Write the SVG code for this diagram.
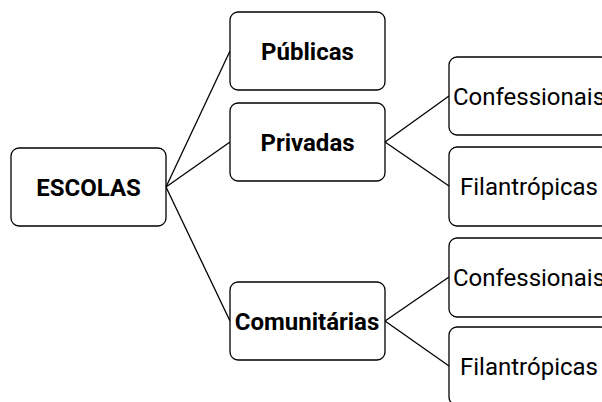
<svg xmlns="http://www.w3.org/2000/svg" width="602" height="402" viewBox="0 0 602 402">
<style>
.box{fill:#fff;stroke:#000;stroke-width:1.3}
.b{font-family:Roboto,"Liberation Sans",sans-serif;font-weight:bold;font-size:24px;text-anchor:middle;fill:#000}
.r{font-family:Roboto,"Liberation Sans",sans-serif;font-size:24px;text-anchor:middle;fill:#000}
.c{fill:none;stroke:#000;stroke-width:1.3}
</style>
<rect width="602" height="402" fill="#fff"/>
<g id="connectors">
<line class="c" x1="166" y1="187" x2="230" y2="51"/>
<line class="c" x1="166" y1="187" x2="230" y2="142"/>
<line class="c" x1="166" y1="187" x2="230" y2="321"/>
<line class="c" x1="385" y1="142" x2="449" y2="96"/>
<line class="c" x1="385" y1="142" x2="449" y2="186"/>
<line class="c" x1="385" y1="321" x2="449" y2="277"/>
<line class="c" x1="385" y1="321" x2="449" y2="366"/>
</g>
<g id="escolas"><rect class="box" x="11" y="148" width="155" height="78" rx="8"/><text class="b" x="88.5" y="195.5">ESCOLAS</text></g>
<g id="publicas"><rect class="box" x="230" y="12" width="155" height="78" rx="8"/><text class="b" x="307.5" y="59.5">Públicas</text></g>
<g id="privadas"><rect class="box" x="230" y="103" width="155" height="78" rx="8"/><text class="b" x="307.5" y="150.5">Privadas</text></g>
<g id="comunitarias"><rect class="box" x="230" y="282" width="155" height="78" rx="8"/><text class="b" x="307" y="329.5">Comunitárias</text></g>
<g id="confessionais1"><rect class="box" x="449" y="57" width="160" height="78" rx="8"/><text class="r" x="529" y="104.5">Confessionais</text></g>
<g id="filantropicas1"><rect class="box" x="449" y="147" width="160" height="79" rx="8"/><text class="r" x="529" y="195">Filantrópicas</text></g>
<g id="confessionais2"><rect class="box" x="449" y="238" width="160" height="79" rx="8"/><text class="r" x="529" y="286">Confessionais</text></g>
<g id="filantropicas2"><rect class="box" x="449" y="327" width="160" height="78" rx="8"/><text class="r" x="529" y="374.5">Filantrópicas</text></g>
</svg>
